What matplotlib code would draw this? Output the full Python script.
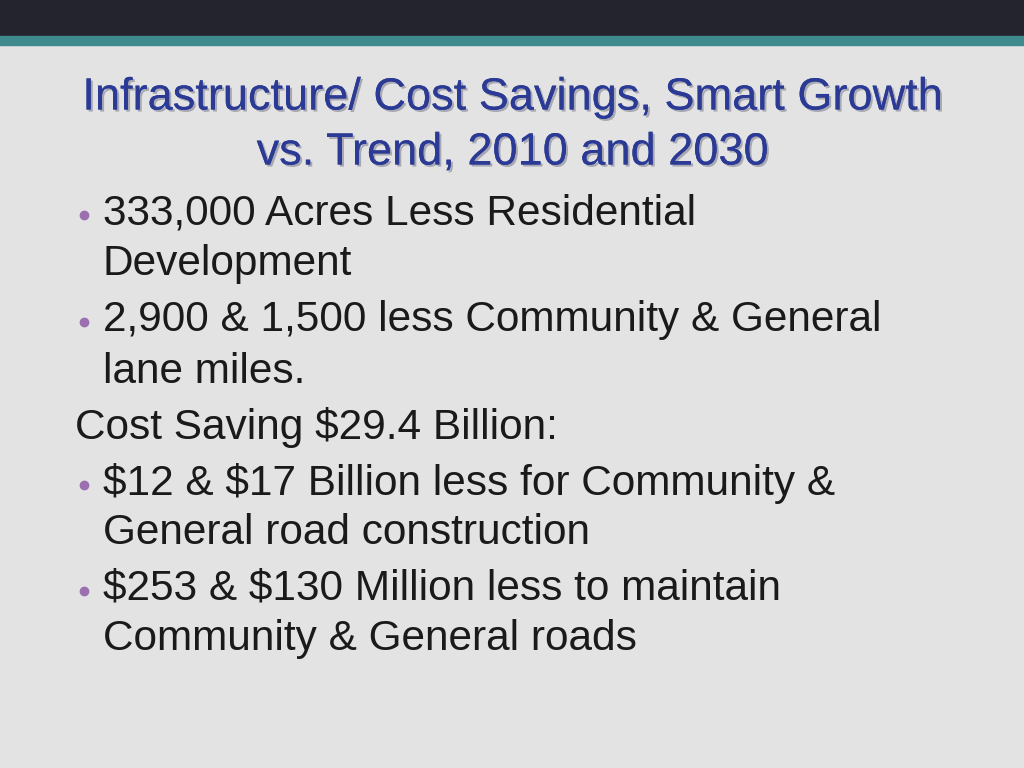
import matplotlib.pyplot as plt
from matplotlib.patches import Rectangle
import matplotlib.patheffects as pe

plt.rcParams["text.parse_math"] = False

title_lines = ["Infrastructure/ Cost Savings, Smart Growth", "vs. Trend, 2010 and 2030"]
body_lines = [
    (True, "333,000 Acres Less Residential"),
    (False, "Development"),
    (True, "2,900 & 1,500 less Community & General"),
    (False, "lane miles."),
    (None, "Cost Saving $29.4 Billion:"),
    (True, "$12 & $17 Billion less for Community &"),
    (False, "General road construction"),
    (True, "$253 & $130 Million less to maintain"),
    (False, "Community & General roads"),
]
body_y = [213, 264, 320, 372, 427, 483, 533, 589, 639]

fig = plt.figure(figsize=(10.24, 7.68), dpi=100)
fig.patch.set_facecolor("#e3e3e3")
ax = fig.add_axes([0, 0, 1, 1])
ax.set_xlim(0, 1024)
ax.set_ylim(768, 0)
ax.axis("off")

# header bands
ax.add_patch(Rectangle((0, 0), 1024, 36, color="#24242f"))
ax.add_patch(Rectangle((0, 36), 1024, 9, color="#3f8a8c"))

shadow = [pe.withSimplePatchShadow(offset=(1.5, -1.5), shadow_rgbFace="#9a9aa8", alpha=0.8), pe.Normal()]
for i, line in enumerate(title_lines):
    ax.text(512, 98 + i * 55, line, ha="center", va="center", fontsize=32.5,
            color="#2b3a94", family="Liberation Sans", path_effects=shadow)

for (bullet, text), y in zip(body_lines, body_y):
    x = 75 if bullet is None else 103
    if bullet:
        ax.plot(84, y + 2, "o", color="#9b6fb0", markersize=6)
    ax.text(x, y, text, ha="left", va="center", fontsize=30.5,
            color="#1a1a1a", family="Liberation Sans")

fig.savefig("out.png", dpi=100, facecolor=fig.get_facecolor())
